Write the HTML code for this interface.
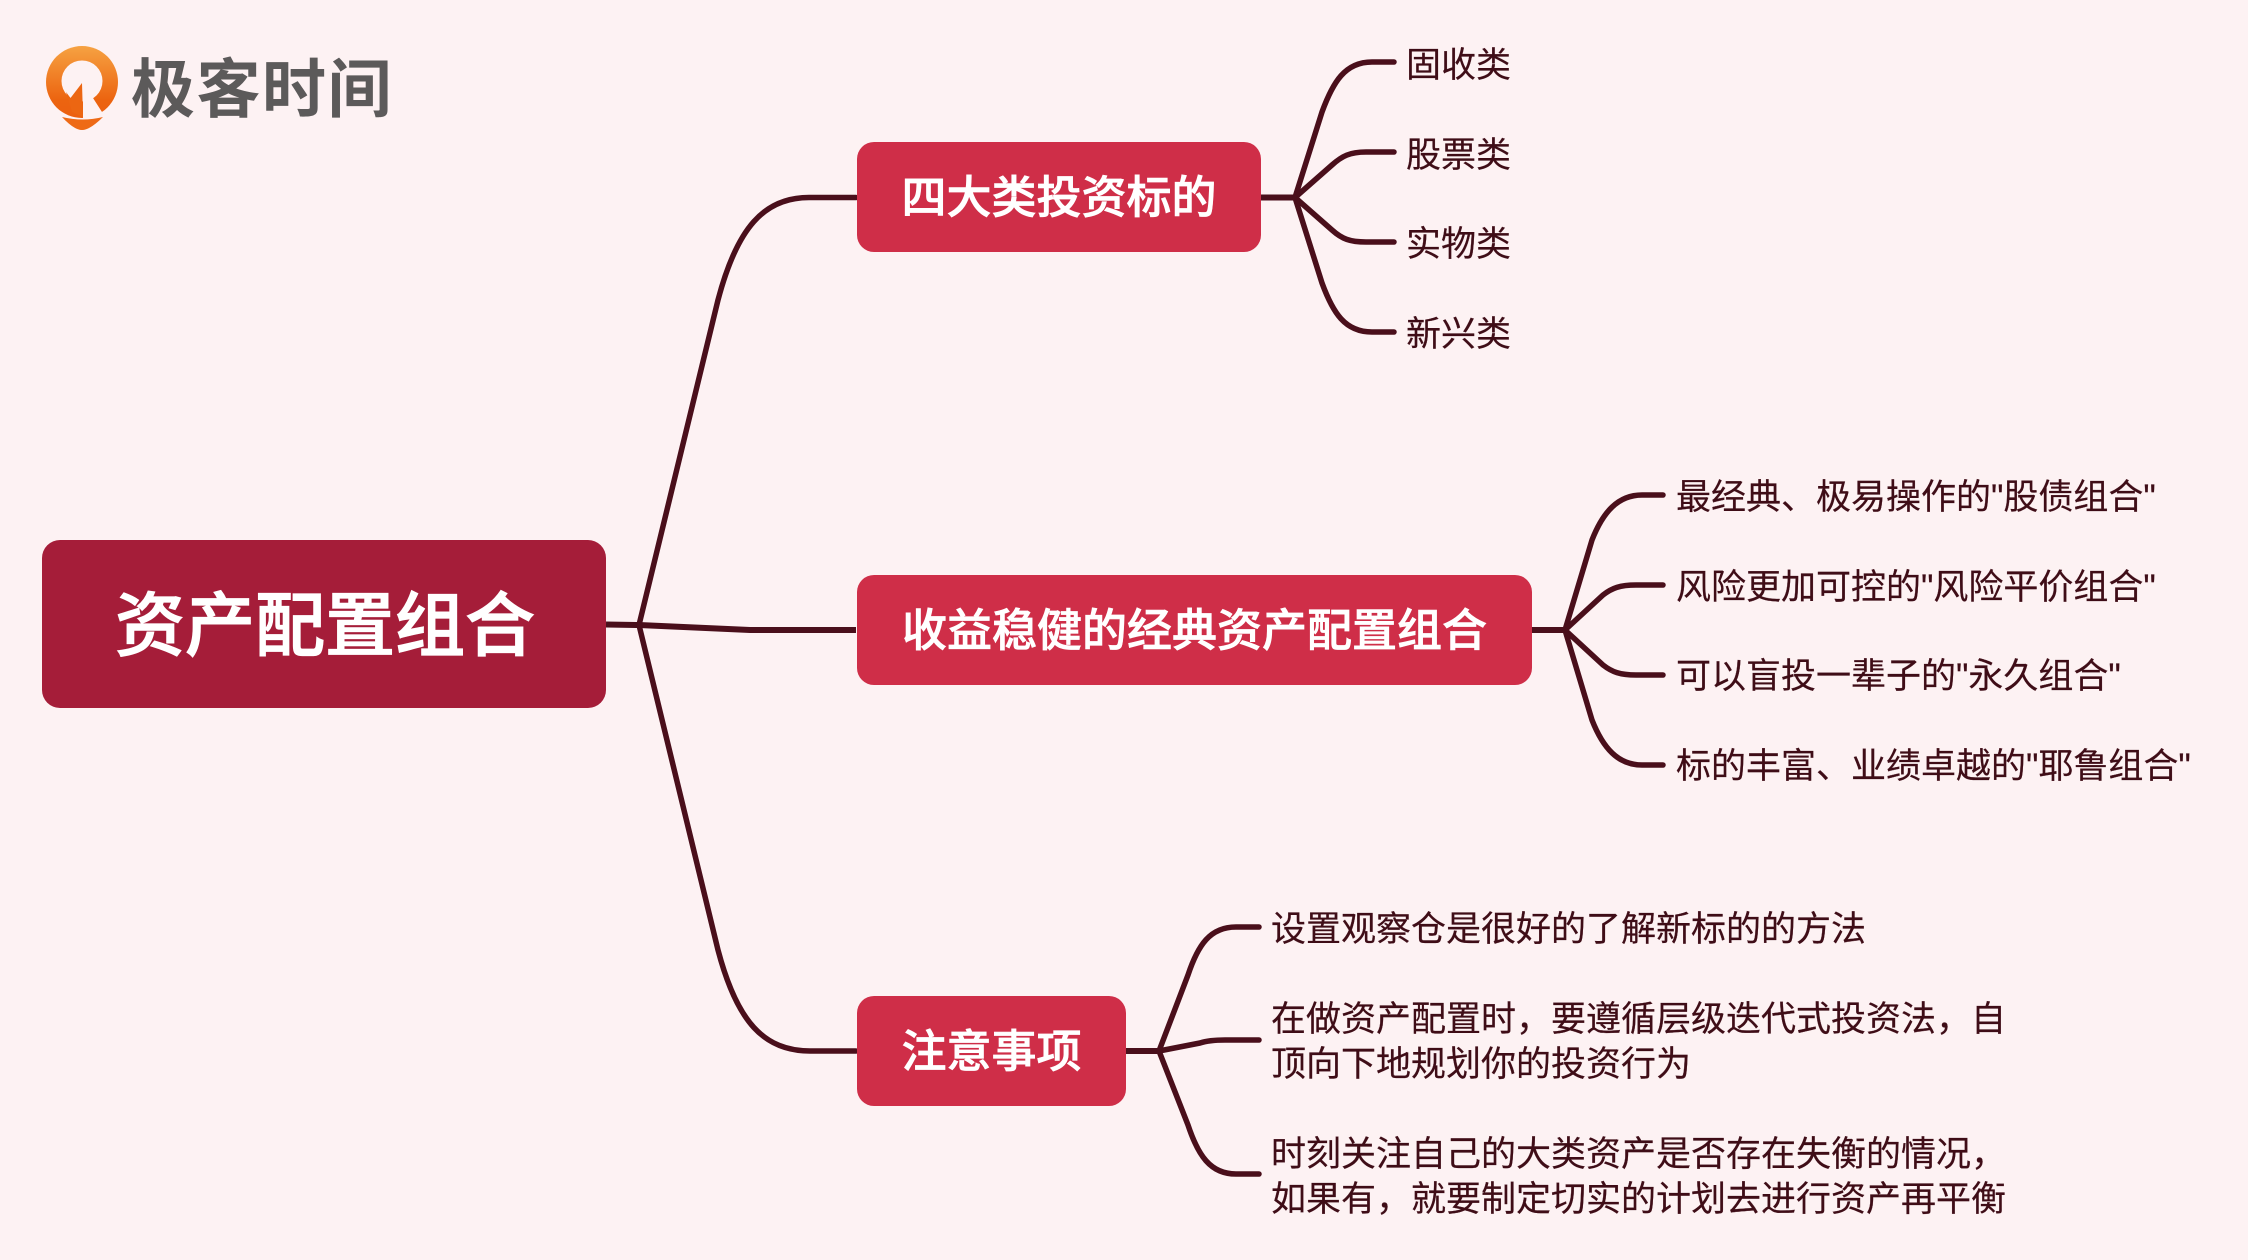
<!DOCTYPE html>
<html lang="zh"><head><meta charset="utf-8"><title>资产配置组合</title>
<style>
html,body{margin:0;padding:0;background:#fdf2f3;}
#c{position:relative;width:2248px;height:1260px;overflow:hidden;background:#fdf2f3;font-family:"Liberation Sans","Noto Sans CJK SC",sans-serif;}
svg{position:absolute;left:0;top:0;}
.b{position:absolute;display:flex;align-items:center;justify-content:center;color:#fff;font-weight:500;white-space:nowrap;box-sizing:border-box;padding-bottom:8px;}
.r{background:#a51d39;border-radius:18px;left:42px;top:540px;width:564px;height:168px;font-size:70px;padding-left:2px;-webkit-text-stroke:1.2px #fff;}
.s{background:#cf2e48;border-radius:17px;left:857px;height:110px;font-size:45px;-webkit-text-stroke:.7px #fff;}
.t{position:absolute;color:#3f0d17;font-size:35px;line-height:45px;white-space:nowrap;-webkit-text-stroke:.2px #3f0d17;}
.l{position:absolute;left:131px;top:47px;font-size:64px;line-height:86px;color:#5c5a5a;font-weight:700;white-space:nowrap;letter-spacing:1.5px;}
</style></head><body><div id="c">
<svg width="2248" height="1260" viewBox="0 0 2248 1260">
<defs><linearGradient id="g" x1="0" y1="0" x2="0" y2="1"><stop offset="0" stop-color="#f6a242"/><stop offset=".75" stop-color="#ec6410"/><stop offset="1" stop-color="#ec6010"/></linearGradient></defs>
<circle cx="82" cy="82" r="36" fill="url(#g)"/>
<circle cx="82" cy="81" r="20.5" fill="#fdf2f3"/>
<polygon points="83,84 83,120 104,120 102,112 93,98 100,88" fill="#fdf2f3"/>
<polygon points="82,83 83,117 72,112 66,92 70.5,98" fill="#ec6612"/>
<path d="M62,117 Q83,122 103,117 Q90,130 82,130 Q74,130 62,117Z" fill="#ee6a16"/>
<g fill="none" stroke="#4a0f1b" stroke-width="5.5" stroke-linecap="round" stroke-linejoin="round">
<path d="M606,624.5 L639,625 L750,630 L856,630" stroke-linecap="butt" stroke-width="6"/>
<path d="M639,625 L718,300 C737,228 764,197 810,197.5 L856,197.5"/>
<path d="M639,625 L718,950 C737,1022 764,1051 810,1051 L856,1051"/>
<path d="M1261,197.5 L1295,197.5" stroke-width="6" stroke-linecap="butt"/>
<path d="M1295,197.5 L1322,112 C1333,82 1345,62 1372,62 L1394,62"/>
<path d="M1295,197.5 L1332,165 C1342,156 1350,152 1366,152 L1394,152"/>
<path d="M1295,197.5 L1332,230 C1342,239 1350,242 1366,242 L1394,242"/>
<path d="M1295,197.5 L1322,283 C1333,313 1345,332 1372,332 L1394,332"/>
<path d="M1531,630 L1565,630" stroke-width="6" stroke-linecap="butt"/>
<path d="M1565,630 L1592,540 C1603,512 1618,495 1642,495 L1663,495"/>
<path d="M1565,630 L1603,595 C1612,588 1620,585 1636,585 L1663,585"/>
<path d="M1565,630 L1603,665 C1612,672 1620,675 1636,675 L1663,675"/>
<path d="M1565,630 L1592,720 C1603,748 1618,765 1642,765 L1663,765"/>
<path d="M1126,1051 L1159,1051" stroke-width="6" stroke-linecap="butt"/>
<path d="M1159,1051 L1188,975 C1198,945 1210,927 1236,927 L1259,927"/>
<path d="M1159,1051 L1200,1043 C1206,1041 1212,1040 1225,1040 L1259,1040"/>
<path d="M1159,1051 L1188,1125 C1198,1155 1210,1174 1236,1174 L1259,1174"/>
</g>
</svg>
<div class="l">极客时间</div>
<div class="b r">资产配置组合</div>
<div class="b s" style="top:142px;width:404px;">四大类投资标的</div>
<div class="b s" style="top:575px;width:675px;">收益稳健的经典资产配置组合</div>
<div class="b s" style="top:996px;width:269px;">注意事项</div>
<div class="t" style="left:1406px;top:43px;">固收类</div>
<div class="t" style="left:1406px;top:133px;">股票类</div>
<div class="t" style="left:1406px;top:222px;">实物类</div>
<div class="t" style="left:1406px;top:312px;">新兴类</div>
<div class="t" style="left:1676px;top:475px;">最经典、极易操作的"股债组合"</div>
<div class="t" style="left:1676px;top:565px;">风险更加可控的"风险平价组合"</div>
<div class="t" style="left:1676px;top:654px;">可以盲投一辈子的"永久组合"</div>
<div class="t" style="left:1676px;top:744px;">标的丰富、业绩卓越的"耶鲁组合"</div>
<div class="t" style="left:1271px;top:907px;">设置观察仓是很好的了解新标的的方法</div>
<div class="t" style="left:1271px;top:997px;">在做资产配置时，要遵循层级迭代式投资法，自</div>
<div class="t" style="left:1271px;top:1042px;">顶向下地规划你的投资行为</div>
<div class="t" style="left:1271px;top:1132px;">时刻关注自己的大类资产是否存在失衡的情况，</div>
<div class="t" style="left:1271px;top:1177px;">如果有，就要制定切实的计划去进行资产再平衡</div>
</div></body></html>
